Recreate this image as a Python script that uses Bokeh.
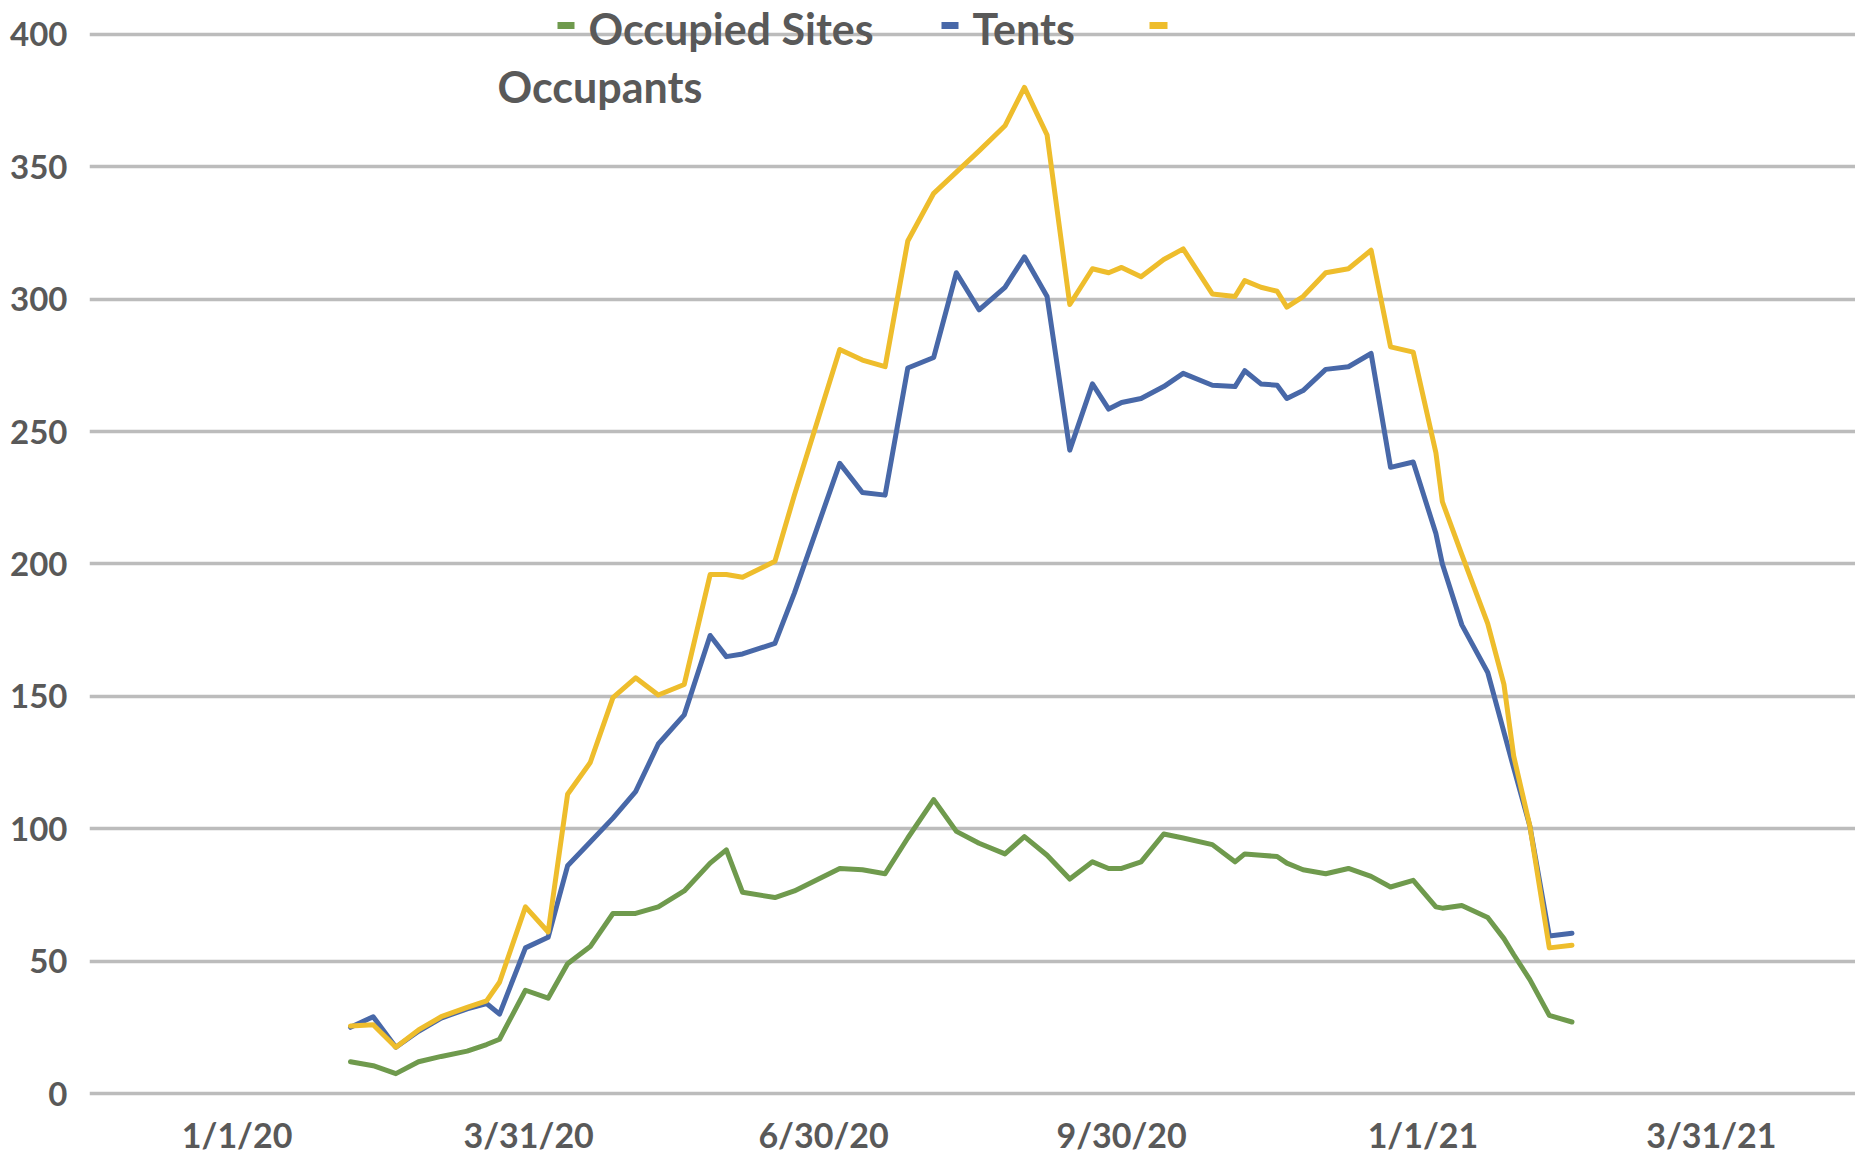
import pandas as pd
from bokeh.plotting import figure
from bokeh.models import Range1d, FixedTicker, Label, BoxAnnotation
from bokeh.embed import file_html
from bokeh.resources import INLINE

# ---------------- data ----------------
dates = [
    "2020-02-05", "2020-02-12", "2020-02-19", "2020-02-26", "2020-03-04", "2020-03-12",
    "2020-03-18", "2020-03-22", "2020-03-30", "2020-04-06", "2020-04-12", "2020-04-19",
    "2020-04-26", "2020-05-03", "2020-05-10", "2020-05-18", "2020-05-26", "2020-05-31",
    "2020-06-05", "2020-06-15", "2020-06-21", "2020-07-05", "2020-07-12", "2020-07-19",
    "2020-07-26", "2020-08-03", "2020-08-10", "2020-08-17", "2020-08-25", "2020-08-31",
    "2020-09-07", "2020-09-14", "2020-09-21", "2020-09-26", "2020-09-30", "2020-10-06",
    "2020-10-13", "2020-10-19", "2020-10-28", "2020-11-04", "2020-11-07", "2020-11-12",
    "2020-11-17", "2020-11-20", "2020-11-25", "2020-12-02", "2020-12-09", "2020-12-16",
    "2020-12-22", "2020-12-29", "2021-01-05", "2021-01-07", "2021-01-13", "2021-01-21",
    "2021-01-26", "2021-01-29", "2021-02-03", "2021-02-09", "2021-02-16",
]
occupied_sites = [
    12, 10.5, 7.5, 12, 14, 16,
    18.5, 20.5, 39, 36, 49, 55.5,
    68, 68, 70.5, 76.5, 87, 92,
    76, 74, 76.5, 85, 84.5, 83,
    96.5, 111, 99, 94.5, 90.5, 97,
    90, 81, 87.5, 85, 85, 87.5,
    98, 96.5, 94, 87.5, 90.5, 90,
    89.5, 87, 84.5, 83, 85, 82,
    78, 80.5, 70.5, 70, 71, 66.5,
    58.5, 52.5, 43, 29.5, 27,
]
tents = [
    25, 29, 17.5, 23.5, 28.5, 32,
    34, 30, 55, 59, 86, 95,
    104, 114, 132, 143, 173, 165,
    166, 170, 189, 238, 227, 226,
    274, 278, 310, 296, 304.5, 316,
    301, 243, 268, 258.5, 261, 262.5,
    267, 272, 267.5, 267, 273, 268,
    267.5, 262.5, 265.5, 273.5, 274.5, 279.5,
    236.5, 238.5, 211.5, 200, 177, 159,
    136.5, 123, 101, 59.5, 60.5,
]
occupants = [
    25.5, 26, 17.5, 24, 29, 32.5,
    35, 42, 70.5, 61, 113, 125,
    149.5, 157, 150.5, 154.5, 196, 196,
    195, 201, 226, 281, 277, 274.5,
    322, 340, 348, 356, 365.5, 380,
    362, 298, 311.5, 310, 312, 308.5,
    315, 319, 302, 301, 307, 304.5,
    303, 297, 301, 310, 311.5, 318.5,
    282, 280, 242, 223.5, 203.5, 177.5,
    154.5, 127.5, 101, 55, 56,
]
series_names = ["Occupied Sites", "Tents", "Occupants"]
series_colors = ["#6f9a4d", "#4868a8", "#eebd2c"]

y_ticks = [0, 50, 100, 150, 200, 250, 300, 350, 400]
x_tick_dates = ["2020-01-01", "2020-03-31", "2020-06-30", "2020-09-30", "2021-01-01", "2021-03-31"]
x_tick_labels = ["1/1/20", "3/31/20", "6/30/20", "9/30/20", "1/1/21", "3/31/21"]

# ---------------- layout geometry (page pixels; the page has no margin) ----------------
W, H = 1855, 1157
FRAME_LEFT, FRAME_RIGHT = 89, 1855
FRAME_TOP, FRAME_BOTTOM = 0, 1099
Y0_PX, Y400_PX = 1095, 34
PX_PER_UNIT = (Y0_PX - Y400_PX) / 400.0
X_REF_PX, PX_PER_DAY = 236.6, 3.24          # page x of 1/1/20, pixels per day
BASE = pd.Timestamp("2020-01-01")

def px_to_time(px):
    return BASE + pd.Timedelta(days=(px - X_REF_PX) / PX_PER_DAY)

def px_to_ms(px):
    return px_to_time(px).value / 1e6

def py_to_val(py):
    return (Y0_PX - py) / PX_PER_UNIT

x_start = px_to_time(FRAME_LEFT).to_pydatetime()
x_end = px_to_time(FRAME_RIGHT).to_pydatetime()
y_start = py_to_val(FRAME_BOTTOM)
y_end = py_to_val(FRAME_TOP)

TEXT_COLOR = "#595959"
FONT = "Lato"

p = figure(
    width=W, height=H, x_axis_type="datetime",
    x_range=Range1d(x_start, x_end), y_range=Range1d(y_start, y_end),
    output_backend="svg", toolbar_location=None,
    min_border_left=FRAME_LEFT, min_border_right=W - FRAME_RIGHT,
    min_border_top=FRAME_TOP, min_border_bottom=H - FRAME_BOTTOM,
)
p.outline_line_color = None
p.background_fill_color = "white"
p.border_fill_color = "white"

# grid
p.xgrid.visible = False
p.ygrid.ticker = FixedTicker(ticks=y_ticks)
p.ygrid.grid_line_color = "#bcbcbc"
p.ygrid.grid_line_width = 3.5

# y axis
p.yaxis.ticker = FixedTicker(ticks=y_ticks)
p.yaxis.axis_line_color = None
p.yaxis.major_tick_line_color = None
p.yaxis.minor_tick_line_color = None
p.yaxis.major_label_standoff = 16
p.yaxis.major_label_text_font = FONT
p.yaxis.major_label_text_font_style = "bold"
p.yaxis.major_label_text_font_size = "33px"
p.yaxis.major_label_text_color = TEXT_COLOR

# x axis
tick_ms = [pd.Timestamp(d).value / 1e6 for d in x_tick_dates]
p.xaxis.ticker = FixedTicker(ticks=tick_ms)
p.xaxis.major_label_overrides = {t: lab for t, lab in zip(tick_ms, x_tick_labels)}
p.xaxis.axis_line_color = None
p.xaxis.major_tick_line_color = None
p.xaxis.minor_tick_line_color = None
p.xaxis.major_label_standoff = 10
p.xaxis.major_label_text_font = FONT
p.xaxis.major_label_text_font_style = "bold"
p.xaxis.major_label_text_font_size = "34px"
p.xaxis.major_label_text_color = TEXT_COLOR

# lines (green, blue, then yellow on top)
x = pd.to_datetime(dates)
for ys, col in zip([occupied_sites, tents, occupants], series_colors):
    p.line(x, ys, line_color=col, line_width=5, line_join="round", line_cap="round")

# legend (manual, laid out as in the reference)
SW_H = 7
legend_items = [
    # swatch left, swatch right, swatch centre y, text x, text centre y
    (557, 574, 25, 588, 28, series_names[0], series_colors[0]),
    (941, 958, 25, 972, 28, series_names[1], series_colors[1]),
    (1149, 1167, 25, 497, 86, series_names[2], series_colors[2]),
]
for sl, sr, sc, tx, ty, name, col in legend_items:
    p.add_layout(BoxAnnotation(
        left=px_to_ms(sl), right=px_to_ms(sr),
        top=py_to_val(sc - SW_H / 2), bottom=py_to_val(sc + SW_H / 2),
        fill_color=col, fill_alpha=1, line_color=None, level="overlay"))
    p.add_layout(Label(
        x=px_to_ms(tx), y=py_to_val(ty), text=name,
        text_font=FONT, text_font_style="bold", text_font_size="43px",
        text_color=TEXT_COLOR, text_align="left", text_baseline="middle"))

open("out.html", "w").write(file_html(p, INLINE))
